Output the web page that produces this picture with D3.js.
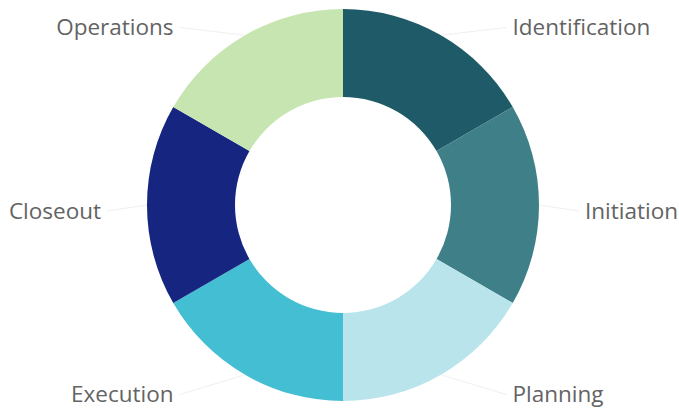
<!DOCTYPE html>
<html lang="en">
<head>
<meta charset="UTF-8">
<title>Project Phases Donut</title>
<script src="https://d3js.org/d3.v7.min.js"></script>
<style>
    body { margin: 0; background: #fff; }
    .label { font-family: "Open Sans", "Noto Sans", sans-serif; font-size: 22.5px; fill: #636363; }
    .leader { stroke: #f0f0f0; stroke-width: 1; fill: none; }
</style>
</head>
<body>
<svg width="679" height="412"></svg>
<script>
    const phases = ["Identification", "Initiation", "Planning", "Execution", "Closeout", "Operations"];
    const shares = [1, 1, 1, 1, 1, 1];
    const colors = ["#1e5a68", "#3f7f87", "#bae4ec", "#44bed3", "#152580", "#c6e5b1"];

    const svg = d3.select("svg"),
        cx = 343, cy = 205,
        outer = 196, inner = 108,
        g = svg.append("g").attr("transform", `translate(${cx},${cy})`);

    const pie = d3.pie().sort(null).value(d => d.value);
    const arc = d3.arc().innerRadius(inner).outerRadius(outer);

    const data = pie(phases.map((p, i) => ({name: p, value: shares[i]})));
    const color = d3.scaleOrdinal().domain(phases).range(colors);

    g.selectAll("path.slice")
        .data(data)
        .enter().append("path")
        .attr("class", "slice")
        .attr("d", arc)
        .attr("fill", d => color(d.data.name));

    // label placement: y from a label ring, x pushed sideways
    const Ly = 212, Lx = 145, push = 97, shiftY = 6;
    const mid = d => (d.startAngle + d.endAngle) / 2;
    const side = d => Math.sign(Math.sin(mid(d)));
    const lx = d => side(d) * (Lx * Math.abs(Math.sin(mid(d))) + push);
    const ly = d => -Ly * Math.cos(mid(d)) + shiftY;

    g.selectAll("line.leader")
        .data(data)
        .enter().append("line")
        .attr("class", "leader")
        .attr("x1", d => Math.sin(mid(d)) * outer)
        .attr("y1", d => -Math.cos(mid(d)) * outer)
        .attr("x2", d => lx(d) - side(d) * 6)
        .attr("y2", d => ly(d));

    g.selectAll("text.label")
        .data(data)
        .enter().append("text")
        .attr("class", "label")
        .attr("x", lx)
        .attr("y", ly)
        .attr("dy", "0.35em")
        .attr("text-anchor", d => side(d) > 0 ? "start" : "end")
        .text(d => d.data.name);
</script>
</body>
</html>
